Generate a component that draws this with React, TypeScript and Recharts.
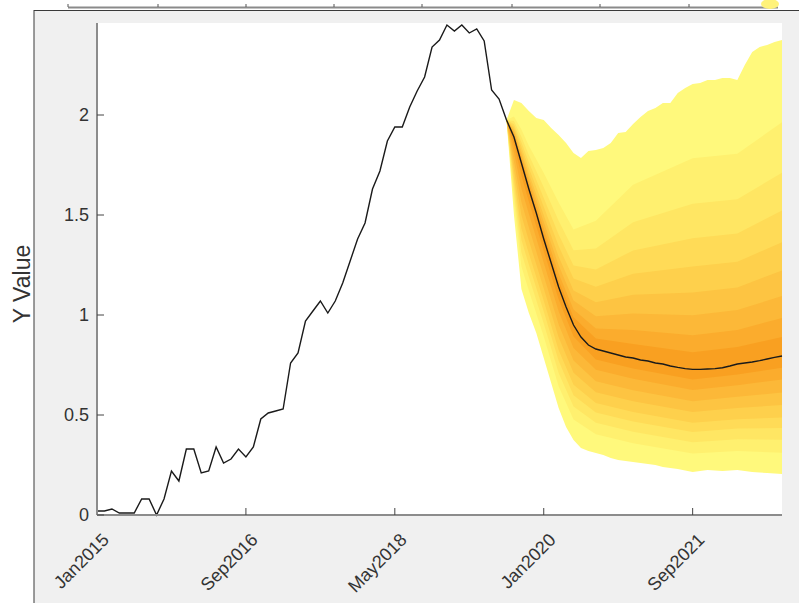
import React from 'react';
import { ComposedChart, Line, Area, XAxis, YAxis } from 'recharts';

// months counted from Jan2015 (0) to Sep2022 (92)
const monthCount = 93;
const xTicks = [0, 20, 40, 60, 80];
const xTickLabels = ['Jan2015', 'Sep2016', 'May2018', 'Jan2020', 'Sep2021'];
const yTicks = [0, 0.5, 1, 1.5, 2];

// observed series, Jan2015 .. Aug2019
const history = [
  0.02, 0.02, 0.03, 0.01, 0.01, 0.01, 0.08, 0.08, 0.0, 0.08,
  0.22, 0.17, 0.33, 0.33, 0.21, 0.22, 0.34, 0.26, 0.28, 0.33,
  0.29, 0.34, 0.48, 0.51, 0.52, 0.53, 0.76, 0.81, 0.97, 1.02,
  1.07, 1.01, 1.07, 1.16, 1.27, 1.38, 1.46, 1.63, 1.72, 1.87,
  1.94, 1.94, 2.04, 2.12, 2.19, 2.34, 2.375, 2.45, 2.42, 2.45,
  2.41, 2.43, 2.37, 2.125, 2.08, 1.975,
];

// forecast, Aug2019 .. Sep2022 (monthly)
const forecastStart = 55;
const median = [
  1.975, 1.89, 1.76, 1.63, 1.51, 1.38, 1.26, 1.14, 1.04, 0.95,
  0.89, 0.85, 0.83, 0.82, 0.81, 0.8, 0.79, 0.785, 0.775, 0.77,
  0.76, 0.755, 0.745, 0.738, 0.732, 0.728, 0.728, 0.73, 0.732, 0.736,
  0.745, 0.755, 0.76, 0.765, 0.772, 0.78, 0.788, 0.795,
];
const outerLow = [
  1.975, 1.5, 1.13, 1.01, 0.91, 0.785, 0.66, 0.535, 0.44, 0.375,
  0.335, 0.32, 0.31, 0.3, 0.285, 0.275, 0.27, 0.265, 0.26, 0.255,
  0.25, 0.24, 0.235, 0.23, 0.222, 0.215, 0.22, 0.225, 0.222, 0.22,
  0.222, 0.225, 0.22, 0.215, 0.212, 0.21, 0.208, 0.205,
];
const outerHigh = [
  1.975, 2.075, 2.06, 2.02, 1.985, 1.975, 1.935, 1.9, 1.86, 1.81,
  1.785, 1.82, 1.825, 1.835, 1.86, 1.91, 1.915, 1.955, 1.99, 2.02,
  2.035, 2.06, 2.06, 2.11, 2.135, 2.155, 2.16, 2.175, 2.175, 2.185,
  2.185, 2.175, 2.25, 2.315, 2.34, 2.35, 2.365, 2.375,
];

// inner quantile bands, read at these months only
const bandMonths = [55, 56, 57, 58, 60, 62, 64, 67, 72, 80, 86, 92];
const lo2 = [1.975, 1.57, 1.243, 1.122, 0.892, 0.644, 0.478, 0.404, 0.359, 0.307, 0.32, 0.311];
const lo3 = [1.975, 1.613, 1.313, 1.19, 0.958, 0.71, 0.542, 0.461, 0.416, 0.364, 0.379, 0.376];
const lo4 = [1.975, 1.652, 1.376, 1.252, 1.017, 0.771, 0.599, 0.513, 0.468, 0.415, 0.432, 0.435];
const lo5 = [1.975, 1.687, 1.432, 1.308, 1.071, 0.825, 0.651, 0.56, 0.515, 0.461, 0.479, 0.488];
const lo6 = [1.975, 1.728, 1.499, 1.373, 1.133, 0.889, 0.711, 0.614, 0.569, 0.515, 0.535, 0.55];
const lo7 = [1.975, 1.769, 1.565, 1.438, 1.196, 0.952, 0.772, 0.669, 0.624, 0.569, 0.591, 0.612];
const lo8 = [1.975, 1.812, 1.634, 1.506, 1.261, 1.019, 0.835, 0.726, 0.681, 0.625, 0.649, 0.677];
const lo9 = [1.975, 1.851, 1.697, 1.568, 1.32, 1.079, 0.892, 0.778, 0.733, 0.677, 0.702, 0.736];
const hi2 = [1.975, 1.993, 1.927, 1.846, 1.71, 1.562, 1.427, 1.471, 1.651, 1.784, 1.806, 1.964];
const hi3 = [1.975, 1.97, 1.891, 1.8, 1.639, 1.471, 1.324, 1.332, 1.464, 1.556, 1.579, 1.711];
const hi4 = [1.975, 1.954, 1.864, 1.765, 1.585, 1.402, 1.247, 1.228, 1.323, 1.384, 1.408, 1.522];
const hi5 = [1.975, 1.94, 1.841, 1.735, 1.541, 1.345, 1.182, 1.141, 1.206, 1.242, 1.266, 1.364];
const hi6 = [1.975, 1.927, 1.82, 1.708, 1.499, 1.292, 1.122, 1.064, 1.101, 1.113, 1.138, 1.222];
const hi7 = [1.975, 1.916, 1.803, 1.686, 1.465, 1.249, 1.073, 0.994, 1.007, 0.999, 1.025, 1.095];
const hi8 = [1.975, 1.907, 1.787, 1.665, 1.434, 1.208, 1.027, 0.933, 0.925, 0.899, 0.925, 0.985];
const hi9 = [1.975, 1.898, 1.774, 1.648, 1.407, 1.174, 0.989, 0.882, 0.855, 0.814, 0.84, 0.89];

const innerLows = [lo2, lo3, lo4, lo5, lo6, lo7, lo8, lo9];
const innerHighs = [hi2, hi3, hi4, hi5, hi6, hi7, hi8, hi9];
const bandColors = ['#fff97c', '#fff06f', '#ffe663', '#ffdb57', '#fed04c', '#fdc442', '#fcb838', '#fbac2d', '#f9a021'];

const data = Array.from({ length: monthCount }, (_, m) => {
  const f = m - forecastStart;
  const g = bandMonths.indexOf(m);
  const row: any = {
    m,
    hist: m < history.length ? history[m] : null,
    med: f >= 0 ? median[f] : null,
    b1: f >= 0 ? [outerLow[f], outerHigh[f]] : null,
  };
  innerLows.forEach((lo, i) => {
    row[`b${i + 2}`] = g >= 0 ? [lo[g], innerHighs[i][g]] : null;
  });
  return row;
});

const W = 799;
const H = 603;
const plot = { left: 97, top: 23, right: 782, bottom: 515 };
const font = '"Liberation Sans", Arial, sans-serif';
const textColor = '#333333';

const XTick = (props: any) => {
  const { x, y, payload } = props;
  const label = xTickLabels[xTicks.indexOf(payload.value)];
  const ax = x + 13;
  const ay = y + 26;
  return (
    <text x={ax} y={ay} textAnchor="end" fontSize={18} fontFamily={font} fill={textColor}
      transform={`rotate(-45, ${ax}, ${ay})`}>
      {label}
    </text>
  );
};

const YTick = (props: any) => {
  const { x, y, payload } = props;
  return (
    <text x={x} y={y} dy="0.36em" textAnchor="end" fontSize={18} fontFamily={font} fill={textColor}>
      {payload.value}
    </text>
  );
};

export default function App() {
  const topTicks = [68, 158, 246, 334, 422, 512, 600, 689];
  return (
    <div style={{ position: 'fixed', left: 0, top: 0, width: W, height: H, background: '#ffffff' }}>
      <svg width={W} height={H} style={{ position: 'absolute', left: 0, top: 0 }}>
        <rect x={34} y={10.5} width={W} height={H} fill="#f0f0f0" stroke="#3a3a3a" strokeWidth={1} />
        <line x1={68} y1={7.5} x2={778} y2={7.5} stroke="#8a8a8a" strokeWidth={2} />
        {topTicks.map((t) => (
          <line key={t} x1={t} y1={4} x2={t} y2={7} stroke="#555" strokeWidth={1} />
        ))}
        <ellipse cx={770} cy={4} rx={9} ry={5} fill="#fff27a" />
        <rect x={plot.left} y={plot.top} width={plot.right - plot.left} height={plot.bottom - plot.top} fill="#ffffff" />
        <text x={22} y={284} textAnchor="middle" fontSize={23} fontFamily={font} fill={textColor}
          transform="rotate(-90, 22, 284)" dy="0.35em">Y Value</text>
      </svg>
      <div style={{ position: 'absolute', left: 0, top: 0 }}>
        <ComposedChart width={W} height={H} data={data}
          margin={{ top: plot.top, right: W - plot.right, bottom: 0, left: 0 }}>
          <XAxis xAxisId="b" dataKey="m" type="number" domain={[0, 92]} ticks={xTicks}
            height={H - plot.bottom} tickSize={-7} tickMargin={7} tick={<XTick />}
            axisLine={{ stroke: '#8c8c8c', strokeWidth: 2 }} tickLine={{ stroke: '#444', strokeWidth: 1 }} />
          <XAxis xAxisId="t" orientation="top" dataKey="m" type="number" domain={[0, 92]} ticks={xTicks}
            height={0} tickSize={-7} tick={false}
            axisLine={{ stroke: '#8c8c8c', strokeWidth: 2 }} tickLine={{ stroke: '#444', strokeWidth: 1 }} />
          <YAxis yAxisId="l" type="number" domain={[0, 2.46]} ticks={yTicks} width={plot.left}
            tickSize={-7} tickMargin={15} tick={<YTick />}
            axisLine={{ stroke: '#8c8c8c', strokeWidth: 2 }} tickLine={{ stroke: '#444', strokeWidth: 1 }} />
          <YAxis yAxisId="r" orientation="right" type="number" domain={[0, 2.46]} ticks={yTicks} width={0}
            tickSize={-7} tick={false}
            axisLine={{ stroke: '#8c8c8c', strokeWidth: 2 }} tickLine={{ stroke: '#444', strokeWidth: 1 }} />
          {bandColors.map((c, i) => (
            <Area key={i} xAxisId="b" yAxisId="l" dataKey={`b${i + 1}`} stroke="none" fill={c} fillOpacity={1}
              connectNulls isAnimationActive={false} />
          ))}
          <Line xAxisId="b" yAxisId="l" dataKey="hist" stroke="#1a1a1a" strokeWidth={1.4} dot={false}
            isAnimationActive={false} />
          <Line xAxisId="b" yAxisId="l" dataKey="med" stroke="#1a1a1a" strokeWidth={1.4} dot={false}
            isAnimationActive={false} />
        </ComposedChart>
      </div>
    </div>
  );
}
